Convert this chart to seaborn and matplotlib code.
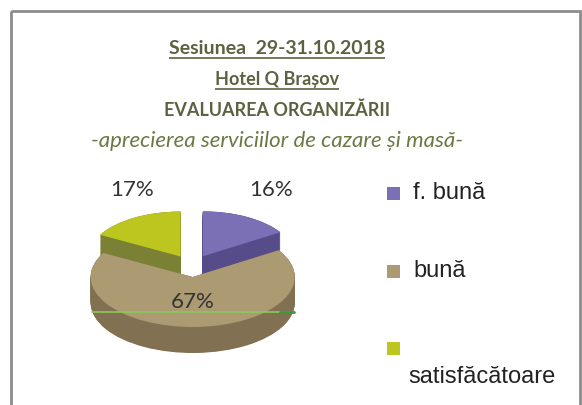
import matplotlib
matplotlib.use("Agg")
import matplotlib.pyplot as plt
from matplotlib.patches import Rectangle
import numpy as np
import seaborn as sns

# Survey results: appreciation of accommodation and meal services
categories = ["f. bună", "bună", "satisfăcătoare"]
shares = [16, 67, 17]
title_lines = ["Sesiunea  29-31.10.2018", "Hotel Q Brașov", "EVALUAREA ORGANIZĂRII"]
subtitle = "-aprecierea serviciilor de cazare și masă-"

top_colors = ["#7b6fb6", "#ab9a72", "#bcc61e"]
side_colors = ["#564c8a", "#817152", "#7a8034"]

sns.set_theme(style="white")
plt.rcParams["font.family"] = ["Lato", "DejaVu Sans"]

W, H = 582, 405
fig = plt.figure(figsize=(W / 100, H / 100), dpi=100)
fig.patch.set_facecolor("white")

# pie axes: unit radius maps to an ellipse (tilted 3-D look)
cx, cy, rx, ry = 192, 266, 102, 50
depth = 26 / ry
back_radius = 0.9  # slices at the back look smaller in perspective
pax = fig.add_axes([0, 0, 1, 1])
explode = [0.22, 0.22, 0.22]


def draw_layer(offset, colors):
    wedges, _ = pax.pie(shares, center=(0, -offset), radius=1, explode=explode,
                        colors=colors, startangle=90, counterclock=False,
                        wedgeprops=dict(linewidth=0))
    wedges[0].set_radius(back_radius)
    wedges[2].set_radius(back_radius)


for k in np.linspace(depth, 0, 45):
    draw_layer(k, side_colors)
draw_layer(0, top_colors)

pax.set_aspect("auto")
pax.set_xlim(-cx / rx, (W - cx) / rx)
pax.set_ylim(-(H - cy) / ry, cy / ry)
pax.axis("off")

# overlay axes in pixel coordinates for text and frame
bg = fig.add_axes([0, 0, 1, 1], facecolor="none")
bg.set_xlim(0, W)
bg.set_ylim(H, 0)
bg.axis("off")

bg.add_patch(Rectangle((11, 11), 569, 420, fill=False, edgecolor="#8c8c8c", linewidth=2))

title_color = "#5d6140"
renderer = fig.canvas.get_renderer()
for txt, y, size, underline in zip(title_lines, [48, 79, 110], [14, 13, 13],
                                   [True, True, False]):
    t = bg.text(277, y, txt, ha="center", va="center", fontsize=size,
                fontweight="bold", color=title_color)
    if underline:
        bb = t.get_window_extent(renderer=renderer)
        bg.plot([bb.x0, bb.x1], [y + 10, y + 10], color=title_color,
                linewidth=1.2, solid_capstyle="butt")
bg.text(277, 141, subtitle, ha="center", va="center", fontsize=16,
        style="italic", color="#6b7a44")

# thin green rule across the large slice
bg.plot([92, 294], [312, 312], color="#8cc75e", linewidth=1.2)
bg.plot([280, 294], [312, 312], color="#3a9a3a", linewidth=2)

# percentage labels
label_pos = [(271, 190), (193, 302), (132, 190)]
for v, (x, y) in zip(shares, label_pos):
    bg.text(x, y, f"{v}%", ha="center", va="center", fontsize=16, color="#333333")

# legend
leg_y = [193, 271, 348]
leg_font = ["Liberation Sans", "DejaVu Sans"]
for col, y in zip(top_colors, leg_y):
    bg.add_patch(Rectangle((387, y - 6.5), 13, 13, facecolor=col, edgecolor="none"))
for name, y in zip(categories[:2], leg_y[:2]):
    bg.text(413, y, name, ha="left", va="center", fontsize=17,
            family=leg_font, color="#222222")
bg.text(408, 377, categories[2], ha="left", va="center", fontsize=17,
        family=leg_font, color="#222222")

fig.savefig("out.png", dpi=100, facecolor="white")
